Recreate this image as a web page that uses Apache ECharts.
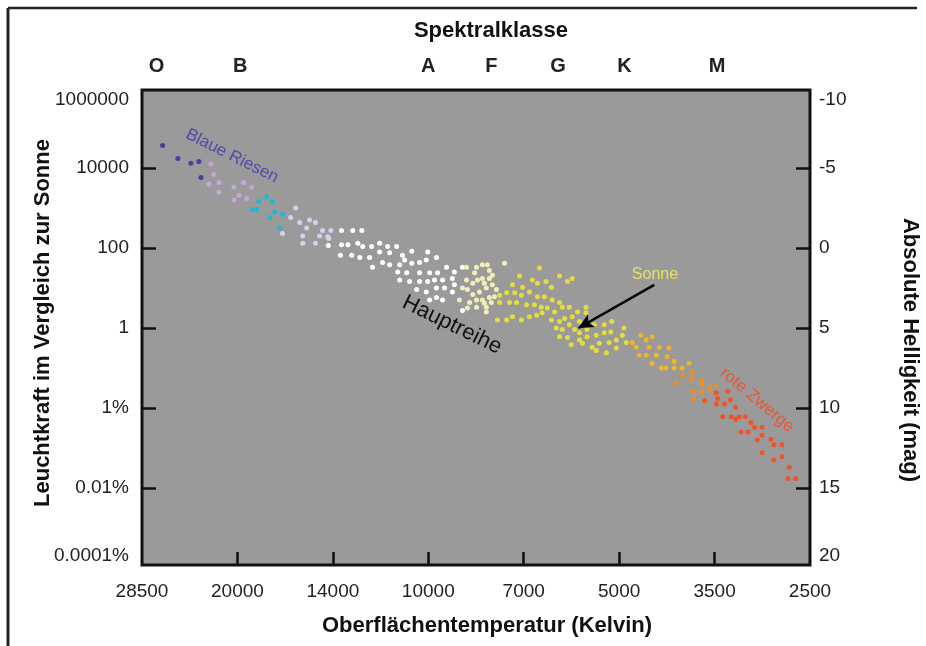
<!DOCTYPE html>
<html><head><meta charset="utf-8">
<script src="https://cdn.jsdelivr.net/npm/echarts@6/dist/echarts.min.js"></script>
<style>html,body{margin:0;padding:0;background:#fff}#c{width:926px;height:646px}</style>
</head><body><div id="c"></div>
<script>
// ---- axis ticks / labels ----
const tempTicks = [28500, 20000, 14000, 10000, 7000, 5000, 3500, 2500];
const lumLogs = [-6, -4, -2, 0, 2, 4, 6];
const lumLabels = ['0.0001%', '0.01%', '1%', '1', '100', '10000', '1000000'];
const magLabels = ['20', '15', '10', '5', '0', '-5', '-10'];
const specClasses = ['O', 'B', 'A', 'F', 'G', 'K', 'M'];
const specTemps = [27000, 19800, 10000, 7900, 6200, 4900, 3470];
// visible luminosity range (log10 L/Lsun)
const LUM_MIN = -5.925, LUM_MAX = 5.95;

// ---- star data: [surface temperature K, absolute magnitude] ----
const oStars = [[26400,-6.4],[24950,-5.6],[23770,-5.3],[23080,-5.4],[22900,-4.4]];
const bLilac = [[22070,-5.25],[21830,-4.6],[21420,-4.1],[22230,-4.0],[21420,-3.5],[20260,-3.8],[19530,-4.1],[18960,-3.8],[19890,-3.3],[20260,-3.0],[19320,-3.1]];
const bCyan = [[18470,-2.9],[17920,-3.2],[17530,-2.9],[18960,-2.4],[18610,-2.4],[17400,-2.25],[16900,-2.1],[17720,-1.9],[17080,-1.25]];
const bLavender = [[16090,-2.5],[16390,-1.9],[15850,-1.6],[15270,-1.75],[14940,-1.6],[15440,-1.25],[16900,-0.9],[15670,-0.75],[14550,-1.1],[14100,-1.1],[14710,-0.75],[14210,-0.6],[15670,-0.3],[14940,-0.3],[14270,-0.7]];
const aWhite = [[13580,-1.1],[13050,-1.1],[12640,-1.1],[14240,-0.15],[13580,-0.2],[13280,-0.2],[12820,-0.3],[12600,-0.1],[12210,-0.1],[11870,-0.3],[11540,-0.1],[11180,-0.1],[13630,0.45],[13100,0.45],[12730,0.6],[12300,0.6],[11870,0.25],[11460,0.3],[10950,0.45],[10600,0.2],[10020,0.25],[11750,0.9],[11460,1.05],[11060,1.05],[10870,0.75],[10600,0.95],[10310,0.9],[10070,0.75],[9700,0.6],[12170,1.2],[11140,1.5],[10790,1.55],[10310,1.55],[9950,1.55],[9660,1.55],[9340,1.2],[9070,1.5],[11060,2.0],[10680,2.1],[10310,2.1],[10020,2.1],[9770,2.0],[9480,2.0],[9140,1.9],[8800,1.2],[10420,2.6],[10070,2.75],[9700,2.5],[9410,2.5],[9070,2.3],[9950,3.25],[9700,3.1],[9480,3.25],[9140,2.75],[8800,3.9]];
const fPale = [[8670,1.2],[8410,1.55],[8350,1.2],[8170,1.05],[7960,1.4],[8670,2.0],[8470,2.2],[8320,2.0],[8170,1.9],[7960,1.9],[7870,1.7],[8800,2.5],[8640,2.6],[8470,2.9],[8260,2.75],[8050,2.5],[7870,2.3],[8900,3.25],[8570,3.4],[8350,3.25],[8170,3.25],[7960,3.1],[8640,3.75],[8350,3.7],[8050,3.7],[7520,0.95],[8110,2.2],[7810,3.05],[8110,3.45],[8050,4.0],[7750,2.6],[7900,3.4],[8020,1.05]];
const gYellow = [[6620,1.25],[6170,1.75],[6000,2.1],[5900,1.9],[7110,1.75],[6790,2.0],[6670,2.2],[6470,2.1],[7300,2.3],[7030,2.45],[6350,2.45],[7660,2.95],[7460,2.8],[7240,2.8],[7060,2.95],[6860,2.75],[6670,3.05],[6510,3.05],[6330,3.25],[6170,3.4],[7660,3.4],[7380,3.4],[7190,3.4],[6930,3.55],[6740,3.55],[6580,3.7],[6440,3.75],[6280,4.0],[6110,3.7],[5960,3.7],[5790,4.0],[5620,3.7],[7720,4.5],[7460,4.5],[7300,4.3],[7060,4.5],[6860,4.3],[6690,4.2],[6560,4.05],[6350,4.5],[6170,4.6],[6060,4.4],[5900,4.3],[5750,4.6],[5620,4.05],[6240,5.0],[6110,5.1],[5960,4.8],[5850,5.1],[5750,5.3],[5600,5.1],[5460,4.8],[5270,4.8],[5130,4.6],[6170,5.55],[6000,5.6],[5750,5.75],[5600,5.55],[5420,5.45],[5270,5.3],[5150,5.25],[4910,5.0],[5920,6.05],[5690,5.95],[5500,6.2],[5360,5.95],[5180,5.9],[5050,5.75],[5420,6.4],[5230,6.55],[5050,6.25],[4940,5.45],[4870,5.9]];
const kStars = [[4610,5.45],[4520,5.75],[4420,5.55],[4470,6.2],[4300,6.2],[4150,6.25],[4640,6.7],[4520,6.7],[4350,6.7],[4180,6.8],[4070,7.1],[4420,7.2],[4270,7.5],[4200,7.5],[4070,7.5],[3950,7.5],[3850,7.2],[4760,5.9],[4690,6.2]];
const kmOrange = [[3800,7.8],[3820,8.2],[3950,8.0],[4040,8.45],[3670,8.3],[3670,8.5],[3560,8.8],[3490,8.6],[3800,8.95],[3670,9.0],[3780,9.45]];
const mRed = [[3480,9.05],[3460,9.4],[3340,8.95],[3310,9.5],[3630,9.55],[3480,9.75],[3380,9.75],[3250,9.95],[3400,10.55],[3300,10.55],[3250,10.7],[3210,10.55],[3140,10.55],[3080,10.9],[3040,11.2],[3190,11.5],[3110,11.5],[2960,11.2],[2960,11.7],[3010,12.0],[2870,11.95],[2840,12.3],[2760,12.3],[2960,12.8],[2840,13.25],[2760,13.05],[2690,13.7],[2700,14.4],[2630,14.4]];
// Sun arrow: from label to the Sun
const sunArrowFrom = [4385, 2.3];
const sun = [5770, 5.0];

// ---- scale helpers ----
function tempToX(T) {
  for (let i = 0; i < tempTicks.length - 1; i++) {
    const a = tempTicks[i], b = tempTicks[i + 1];
    if (T >= b || i === tempTicks.length - 2) return i + Math.log(a / T) / Math.log(a / b);
  }
}
const magToLog = M => (5 - M) / 2.5;
const pt = d => [tempToX(d[0]), magToLog(d[1])];
function pick(vals, labels) {
  return v => { let bi = 0, bd = Infinity; vals.forEach((x, i) => { const d = Math.abs(x - v); if (d < bd) { bd = d; bi = i; } }); return labels[bi]; };
}
const lumLabelVals = lumLogs.map(v => Math.min(LUM_MAX, Math.max(LUM_MIN, v)));
const xLabelVals = tempTicks.map((t, i) => i);
const specVals = specTemps.map(tempToX);
const FONT = "'Liberation Sans', Arial, Helvetica, sans-serif";

const tickStyle = { color: '#111', width: 2.5 };
function yAx(pos, labels, margin) {
  return {
    type: 'value', position: pos, min: LUM_MIN, max: LUM_MAX,
    axisLine: { show: false, onZero: false }, splitLine: { show: false },
    axisTick: { show: true, inside: true, length: 14, customValues: lumLogs.slice(1, -1), lineStyle: tickStyle },
    axisLabel: { customValues: lumLabelVals, formatter: pick(lumLabelVals, labels), fontSize: 19, color: '#222', fontFamily: FONT, margin: margin,
      verticalAlignMaxLabel: 'top', verticalAlignMinLabel: 'bottom' }
  };
}

function sc(name, data, color, extra) {
  return Object.assign({ type: 'scatter', name, data: data.map(pt), symbolSize: 5, itemStyle: { color, opacity: 1 }, silent: true, z: 3 }, extra || {});
}

const chart = echarts.init(document.getElementById('c'), null, { renderer: 'canvas' });
chart.setOption({
  animation: false,
  backgroundColor: '#fff',
  grid: { left: 142, right: 116, top: 90, bottom: 81, show: true, backgroundColor: '#9a9a9a', borderColor: '#111', borderWidth: 3, containLabel: false, outerBoundsMode: 'none' },
  xAxis: [
    { type: 'value', position: 'bottom', min: 0, max: tempTicks.length - 1,
      axisLine: { show: false, onZero: false }, splitLine: { show: false },
      axisTick: { show: true, inside: true, length: 13, customValues: xLabelVals.slice(1, -1), lineStyle: tickStyle },
      axisLabel: { customValues: xLabelVals, formatter: v => String(tempTicks[Math.round(v)]), fontSize: 19, color: '#222', fontFamily: FONT, margin: 17 } },
    { type: 'value', position: 'top', min: 0, max: tempTicks.length - 1,
      axisLine: { show: false, onZero: false }, splitLine: { show: false }, axisTick: { show: false },
      axisLabel: { customValues: specVals, formatter: pick(specVals, specClasses), fontSize: 20, fontWeight: 'bold', color: '#222', fontFamily: FONT, margin: 14 } }
  ],
  yAxis: [ yAx('left', lumLabels, 13), yAx('right', magLabels, 9) ],
  series: [
    sc('O', oStars, '#4a3d9f'),
    sc('B1', bLilac, '#c9a3dd'),
    sc('B2', bCyan, '#1fb8d3'),
    sc('B3', bLavender, '#d5d0f0'),
    sc('A', aWhite, '#ffffff'),
    sc('F', fPale, '#f1efb8'),
    sc('G', gYellow, '#e6dc3e', {
      markLine: { silent: true, symbol: ['none', 'arrow'], symbolSize: [11, 15], animation: false,
        lineStyle: { color: '#000', width: 2.5, type: 'solid' }, label: { show: false },
        data: [[{ coord: pt(sunArrowFrom) }, { coord: pt(sun) }]] } }),
    sc('K', kStars, '#f0b62a'),
    sc('KM', kmOrange, '#f08c22'),
    sc('M', mRed, '#ef5427')
  ],
  graphic: [
    { type: 'line', shape: { x1: 8, y1: 8, x2: 917, y2: 8 }, style: { stroke: '#222', lineWidth: 2.5 } },
    { type: 'line', shape: { x1: 8, y1: 8, x2: 8, y2: 646 }, style: { stroke: '#222', lineWidth: 3 } },
    { type: 'text', x: 491, y: 31, style: { text: 'Spektralklasse', align: 'center', verticalAlign: 'middle', textAlign: 'center', textVerticalAlign: 'middle', font: "bold 22px " + FONT, fill: '#111' } },
    { type: 'text', x: 487, y: 626, style: { text: 'Oberflächentemperatur (Kelvin)', align: 'center', verticalAlign: 'middle', textAlign: 'center', textVerticalAlign: 'middle', font: "bold 22px " + FONT, fill: '#111' } },
    { type: 'text', x: 43, y: 323, rotation: Math.PI / 2, style: { text: 'Leuchtkraft im Vergleich zur Sonne', align: 'center', verticalAlign: 'middle', textAlign: 'center', textVerticalAlign: 'middle', font: "bold 22px " + FONT, fill: '#111' } },
    { type: 'text', x: 910, y: 350, rotation: -Math.PI / 2, style: { text: 'Absolute Helligkeit (mag)', align: 'center', verticalAlign: 'middle', textAlign: 'center', textVerticalAlign: 'middle', font: "bold 22px " + FONT, fill: '#111' } },
    { type: 'text', x: 232, y: 156, rotation: -26.6 * Math.PI / 180, z: 10, style: { text: 'Blaue Riesen', align: 'center', verticalAlign: 'middle', textAlign: 'center', textVerticalAlign: 'middle', font: "17px " + FONT, fill: '#4b4dab' } },
    { type: 'text', x: 452, y: 325, rotation: -26 * Math.PI / 180, z: 10, style: { text: 'Hauptreihe', align: 'center', verticalAlign: 'middle', textAlign: 'center', textVerticalAlign: 'middle', font: "22px " + FONT, fill: '#111' } },
    { type: 'text', x: 757, y: 400, rotation: -40 * Math.PI / 180, z: 10, style: { text: 'rote Zwerge', align: 'center', verticalAlign: 'middle', textAlign: 'center', textVerticalAlign: 'middle', font: "17px " + FONT, fill: '#e8583a' } },
    { type: 'text', x: 655, y: 275, z: 10, style: { text: 'Sonne', align: 'center', verticalAlign: 'middle', textAlign: 'center', textVerticalAlign: 'middle', font: "16px " + FONT, fill: '#e6e060' } }
  ]
});
</script></body></html>
